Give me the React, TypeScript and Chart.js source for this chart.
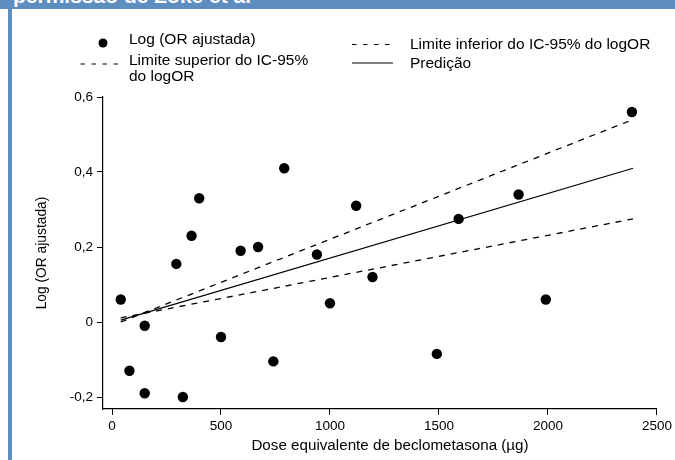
import { useEffect, useRef } from 'react';
import { Chart, registerables } from 'chart.js';

Chart.register(...registerables);

// ---- Data ----
const doses = [40, 80, 150, 150, 295, 325, 365, 400, 500, 590, 670, 740, 790, 940, 1000, 1120, 1195, 1490, 1590, 1865, 1990, 2385];
const logOR = [0.06, -0.13, -0.01, -0.19, 0.155, -0.2, 0.23, 0.33, -0.04, 0.19, 0.2, -0.105, 0.41, 0.18, 0.05, 0.31, 0.12, -0.085, 0.275, 0.34, 0.06, 0.56];
const lineDoses = [40, 2390];
const prediction = [0.005, 0.41];
const upperCI = [0.0, 0.54];
const lowerCI = [0.011, 0.275];
const xTicks = [0, 500, 1000, 1500, 2000, 2500];
const yTicks = [-0.2, 0, 0.2, 0.4, 0.6];
const seriesLabels = ['Log (OR ajustada)', 'Limite superior do IC-95% do logOR', 'Limite inferior do IC-95% do logOR', 'Predição'];
const upperLegendLines = ['Limite superior do IC-95%', 'do logOR'];
const xTitle = 'Dose equivalente de beclometasona (µg)';
const yTitle = 'Log (OR ajustada)';
const headerText = 'permissão de Zoke et al';

const FONT = '"Liberation Sans", Arial, Helvetica, sans-serif';
const BLUE = '#5e8dbf';

const fmt = (v: number) => (v === 0 ? '0' : String(Math.round(v * 10) / 10).replace('.', ','));

const overlayPlugin = {
  id: 'overlay',
  afterDraw(chart: any) {
    const ctx = chart.ctx as CanvasRenderingContext2D;
    ctx.save();
    ctx.fillStyle = '#000';
    ctx.strokeStyle = '#000';
    ctx.textAlign = 'left';
    ctx.textBaseline = 'alphabetic';
    ctx.font = `15.5px ${FONT}`;

    // legend item 1: dot
    ctx.beginPath();
    ctx.arc(103, 43, 4.5, 0, Math.PI * 2);
    ctx.fill();
    ctx.fillText(seriesLabels[0], 129, 44);

    // legend item 2: upper dashed
    ctx.lineWidth = 1.2;
    ctx.setLineDash([4.5, 6.5]);
    ctx.beginPath();
    ctx.moveTo(80.5, 64);
    ctx.lineTo(119, 64);
    ctx.stroke();
    ctx.fillText(upperLegendLines[0], 129, 64.5);
    ctx.fillText(upperLegendLines[1], 129, 81);

    // legend item 3: lower dashed
    ctx.beginPath();
    ctx.moveTo(352, 44.5);
    ctx.lineTo(393, 44.5);
    ctx.stroke();
    ctx.fillText(seriesLabels[2], 410, 48.5);

    // legend item 4: solid
    ctx.setLineDash([]);
    ctx.beginPath();
    ctx.moveTo(352, 63);
    ctx.lineTo(393, 63);
    ctx.stroke();
    ctx.fillText(seriesLabels[3], 410, 67.5);

    // x axis title
    ctx.font = `15.2px ${FONT}`;
    ctx.textAlign = 'center';
    ctx.fillText(xTitle, 390, 450);
    ctx.restore();
  },
};

export default function App() {
  const ref = useRef<HTMLCanvasElement | null>(null);

  useEffect(() => {
    if (!ref.current) return;
    const pts = doses.map((d, i) => ({ x: d, y: logOR[i] }));
    const line = (arr: number[]) => lineDoses.map((d, i) => ({ x: d, y: arr[i] }));
    const chart = new Chart(ref.current, {
      type: 'scatter',
      data: {
        datasets: [
          {
            label: seriesLabels[0],
            data: pts,
            backgroundColor: '#000',
            borderColor: '#000',
            borderWidth: 0,
            pointRadius: 5.2,
            pointHoverRadius: 5.2,
          },
          {
            label: seriesLabels[1],
            data: line(upperCI),
            showLine: true,
            borderColor: '#000',
            borderWidth: 1.3,
            borderDash: [6, 6],
            pointRadius: 0,
          },
          {
            label: seriesLabels[2],
            data: line(lowerCI),
            showLine: true,
            borderColor: '#000',
            borderWidth: 1.3,
            borderDash: [6, 6],
            pointRadius: 0,
          },
          {
            label: seriesLabels[3],
            data: line(prediction),
            showLine: true,
            borderColor: '#000',
            borderWidth: 1.3,
            pointRadius: 0,
          },
        ],
      },
      options: {
        animation: false,
        responsive: true,
        maintainAspectRatio: false,
        layout: { padding: { left: 0, top: 97, right: 18, bottom: 0 } },
        plugins: {
          legend: { display: false },
          tooltip: { enabled: false },
          title: { display: false },
        },
        scales: {
          x: {
            type: 'linear',
            min: -41.3,
            max: 2500,
            afterBuildTicks: (s: any) => {
              s.ticks = xTicks.map((v) => ({ value: v }));
            },
            afterFit: (s: any) => {
              s.height = 51;
            },
            grid: {
              drawOnChartArea: false,
              drawTicks: true,
              tickLength: 6,
              color: '#000',
              lineWidth: 1,
            },
            border: { display: true, color: '#000', width: 1.2 },
            ticks: {
              color: '#000',
              font: { family: FONT, size: 13.5 },
              padding: 3,
              maxRotation: 0,
              autoSkip: false,
              callback: (v: any) => String(v),
            },
          },
          y: {
            type: 'linear',
            min: -0.232,
            max: 0.6,
            afterBuildTicks: (s: any) => {
              s.ticks = yTicks.map((v) => ({ value: v }));
            },
            afterFit: (s: any) => {
              s.width = 103;
            },
            grid: {
              drawOnChartArea: false,
              drawTicks: true,
              tickLength: 6,
              color: '#000',
              lineWidth: 1,
            },
            border: { display: true, color: '#000', width: 1.2 },
            ticks: {
              color: '#000',
              font: { family: FONT, size: 13.5 },
              padding: 4,
              autoSkip: false,
              callback: (v: any) => fmt(Number(v)),
            },
            title: {
              display: true,
              text: yTitle,
              color: '#000',
              font: { family: FONT, size: 13.8 },
              padding: { top: 34, bottom: 0 },
            },
          },
        },
      },
      plugins: [overlayPlugin],
    });
    return () => chart.destroy();
  }, []);

  return (
    <div style={{ position: 'absolute', left: 0, top: 0, width: 675, height: 460, background: '#fff', overflow: 'hidden' }}>
      <div style={{ position: 'absolute', left: 0, top: 0, width: 675, height: 9, background: BLUE, overflow: 'hidden' }}>
        <div
          style={{
            position: 'absolute',
            left: 13,
            top: -15,
            lineHeight: '21px',
            fontSize: 21,
            fontWeight: 'bold',
            fontFamily: FONT,
            color: '#fff',
            whiteSpace: 'nowrap',
          }}
        >
          {headerText}
        </div>
      </div>
      <div style={{ position: 'absolute', left: 8, top: 0, width: 4, height: 460, background: BLUE }} />
      <div style={{ position: 'absolute', left: 0, top: 0, width: 675, height: 460 }}>
        <canvas ref={ref} />
      </div>
    </div>
  );
}
